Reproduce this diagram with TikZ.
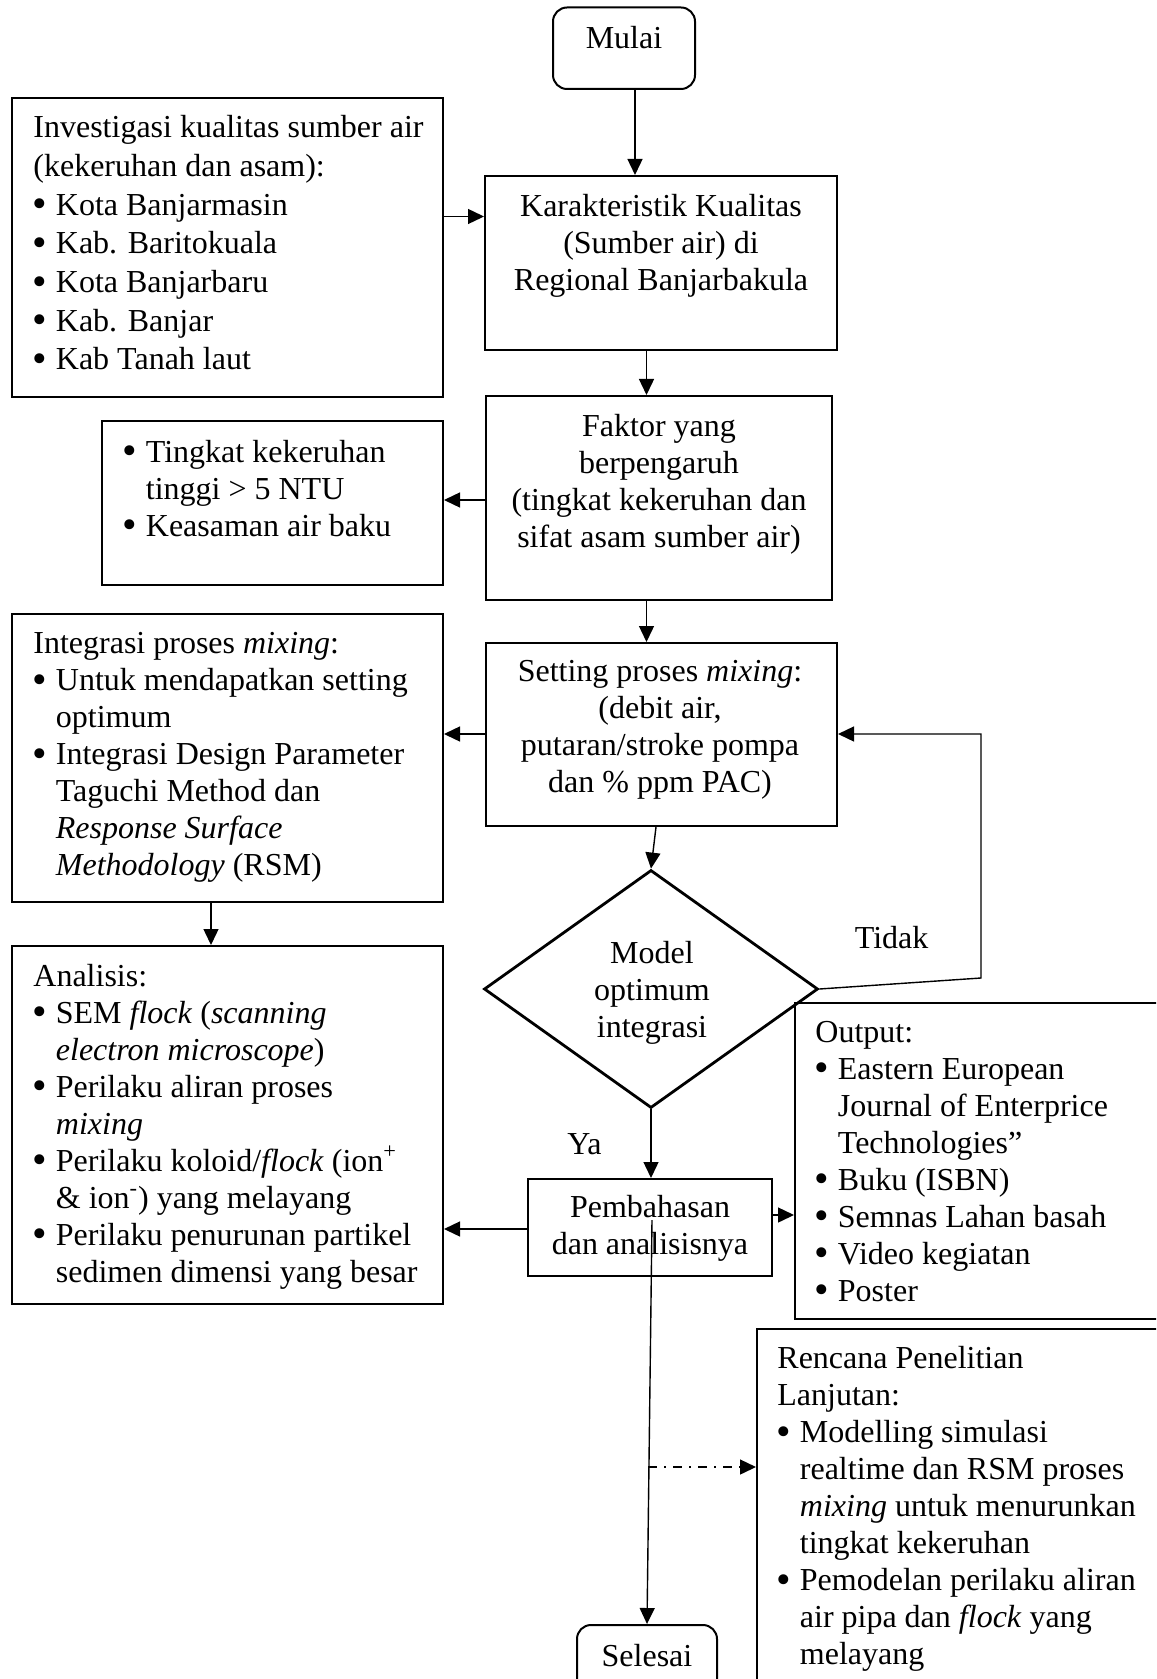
\documentclass[tikz,border=0pt]{standalone}
\usepackage{fontspec}
\usepackage{graphicx}
\setmainfont{Liberation Serif}
\usetikzlibrary{arrows.meta,shapes.geometric,fit,calc}
\newcommand{\bu}{\makebox[11.25pt][l]{\hspace*{-0.5pt}\raisebox{-0.08em}{\scalebox{1.3}{\textbullet}}}}
\newcommand{\ti}{\hspace*{11.25pt}}
\begin{document}
\begin{tikzpicture}[x=0.5pt,y=-0.5pt,
  box/.style={draw, line width=1pt, inner sep=0pt},
  rbox/.style={box, rounded corners=7pt},
  txt/.style={inner sep=0pt, anchor=north west, align=left, font=\fontsize{16}{18.5}\selectfont},
  ctxt/.style={inner sep=0pt, anchor=north, align=center, font=\fontsize{16}{18.5}\selectfont},
  lbl/.style={inner sep=0pt, font=\fontsize{16}{18.5}\selectfont},
  arr/.style={line width=0.7pt, -{Triangle[length=8pt,width=7.5pt]}},
]
\useasboundingbox (0,0) rectangle (1156,1679);
\clip (0,0) rectangle (1156,1679);

% boxes
\node[rbox, fit={(553,7.5) (695,89)}] (mulai) {};
\node[lbl, anchor=base] (mulaitxt) at (624,48.3) {Mulai};

\node[box, fit={(12,98) (443,397)}] (inv) {};
\node[txt, font=\fontsize{16}{19.35}\selectfont] (invtxt) at (33,110.3) {\strut Investigasi kualitas sumber air\\ (kekeruhan dan asam):\\ \bu Kota Banjarmasin\\ \bu Kab. Baritokuala\\ \bu Kota Banjarbaru\\ \bu Kab. Banjar\\ \bu Kab Tanah laut};

\node[box, fit={(485,176) (837,350)}] (kar) {};
\node[ctxt] (kartxt) at (661,189.8) {\strut Karakteristik Kualitas\\ (Sumber air) di\\ Regional Banjarbakula};

\node[box, fit={(486,396) (832,600)}] (fak) {};
\node[ctxt] (faktxt) at (659,409.8) {\strut Faktor yang\\ berpengaruh\\ (tingkat kekeruhan dan\\ sifat asam sumber air)};

\node[box, fit={(102,421) (443,585)}] (ting) {};
\node[txt] (tingtxt) at (123,436) {\strut\bu Tingkat kekeruhan\\ \ti tinggi > 5 NTU\\ \bu Keasaman air baku};

\node[box, fit={(12,614) (443,902)}] (integ) {};
\node[txt] (integtxt) at (33,627.4) {\strut Integrasi proses \textit{mixing}:\\ \bu Untuk mendapatkan setting\\ \ti optimum\\ \bu Integrasi Design Parameter\\ \ti Taguchi Method dan\\ \ti\textit{Response Surface}\\ \ti\textit{Methodology} (RSM)};

\node[box, fit={(486,643) (837,826)}] (set) {};
\node[ctxt] (settxt) at (660,654.8) {\strut Setting proses \textit{mixing}:\\ (debit air,\\ putaran/stroke pompa\\ dan \% ppm PAC)};

\node[draw, diamond, line width=1.4pt, minimum width=167pt, minimum height=119pt, inner sep=0pt] (dia) at (651,989) {};
\node[ctxt] (diatxt) at (652,937.4) {\strut Model\\ optimum\\ integrasi};

\node[box, fit={(12,946) (443,1304)}] (ana) {};
\node[txt] (anatxt) at (33,959.8) {\strut Analisis:\\ \bu SEM \textit{flock} (\textit{scanning}\\ \ti\textit{electron microscope})\\ \bu Perilaku aliran proses\\ \ti\textit{mixing}\\ \bu Perilaku koloid/\textit{flock} (ion\textsuperscript{+}\\ \ti\& ion\textsuperscript{-}) yang melayang\\ \bu Perilaku penurunan partikel\\ \ti sedimen dimensi yang besar};

\node[box, fit={(795,1003) (1200,1319)}] (out) {};
\node[txt] (outtxt) at (815,1016) {\strut Output:\\ \bu Eastern European\\ \ti Journal of Enterprice\\ \ti Technologies”\\ \bu Buku (ISBN)\\ \bu Semnas Lahan basah\\ \bu Video kegiatan\\ \bu Poster};

\node[box, fit={(528,1179) (772,1276)}] (pem) {};
\node[ctxt] (pemtxt) at (650,1190.8) {\strut Pembahasan\\ dan analisisnya};

\node[box, fit={(757,1329) (1200,1720)}] (ren) {};
\node[txt] (rentxt) at (777,1342.4) {\strut Rencana Penelitian\\ Lanjutan:\\ \bu Modelling simulasi\\ \ti realtime dan RSM proses\\ \ti\textit{mixing} untuk menurunkan\\ \ti tingkat kekeruhan\\ \bu Pemodelan perilaku aliran\\ \ti air pipa dan \textit{flock} yang\\ \ti melayang};

\node[rbox, fit={(577,1625) (717,1720)}] (sel) {};
\node[lbl, anchor=base] (seltxt) at (647,1666) {Selesai};

% labels
\node[lbl] (ya) at (584.5,1144) {Ya};
\node[lbl] (tidak) at (891.6,937.7) {Tidak};

% connectors
\path ($(mulai.south)+(11,0)$) coordinate (m1);
\draw[arr] (m1) -- (m1 |- kar.north);
\draw[arr] (inv.east |- 0,216.5) -- (kar.west |- 0,216.5);
\draw[arr] (kar.south -| 646.5,0) -- (fak.north -| 646.5,0);
\draw[arr] (fak.west |- 0,500) -- (ting.east |- 0,500);
\draw[arr] (fak.south -| 646.5,0) -- (set.north -| 646.5,0);
\draw[arr] (set.west |- 0,734) -- (integ.east |- 0,734);
\draw[arr] (set.south -| 656,0) -- (dia.north);
\draw[arr] (integ.south -| 211,0) -- (ana.north -| 211,0);
\draw[arr] (dia.east) -- (981,978) -- (981,734) -- (set.east |- 0,734);
\draw[arr] (dia.south) -- (dia.south |- pem.north);
\draw[arr] (pem.west |- 0,1229) -- (ana.east |- 0,1229);
\draw[arr] (pem.east |- 0,1215) -- (out.west |- 0,1215);
\coordinate (ps) at (652,1220);
\draw[arr] (ps) -- (sel.north -| 647,0);
\coordinate (dd) at (648,1467);
\draw[arr, dash pattern=on 4.5pt off 3.5pt on 1pt off 3.5pt] (dd) -- (ren.west |- dd);
\end{tikzpicture}
\end{document}
